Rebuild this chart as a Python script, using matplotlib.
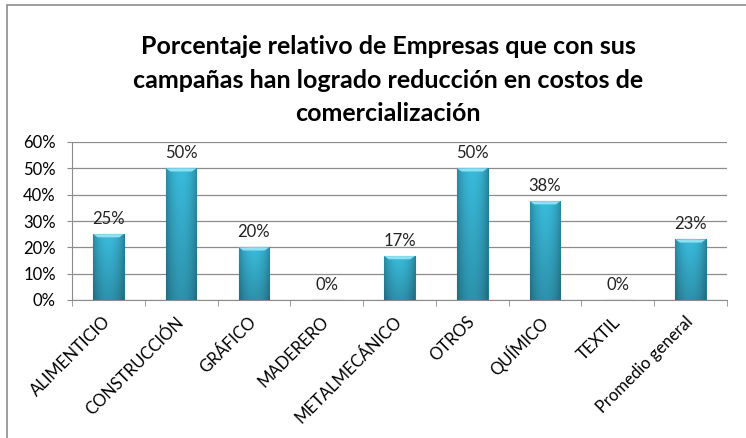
import numpy as np
import matplotlib.pyplot as plt
from matplotlib.patches import Rectangle
from matplotlib.ticker import PercentFormatter, FixedLocator

categorias = ['ALIMENTICIO', 'CONSTRUCCIÓN', 'GRÁFICO', 'MADERERO', 'METALMECÁNICO',
              'OTROS', 'QUÍMICO', 'TEXTIL', 'Promedio general']
valores = [0.25, 0.50, 0.20, 0.0, 0.1667, 0.50, 0.375, 0.0, 0.23]
etiquetas = ['25%', '50%', '20%', '0%', '17%', '50%', '38%', '0%', '23%']

titulo = ('Porcentaje relativo de Empresas que con sus\n'
          'campañas han logrado reducción en costos de\n'
          'comercialización')

plt.rcParams['font.family'] = ['Lato', 'DejaVu Sans']

fig = plt.figure(figsize=(7.46, 4.38), dpi=100)
# marco gris del gráfico
fig.patches.append(Rectangle((7/746, -0.05), 1.0, 1 - 5/438 + 0.05, transform=fig.transFigure,
                             fill=False, edgecolor='#8c8c8c', linewidth=1.2))

ax = fig.add_axes([72/746, 1 - 300/438, 655/746, 158/438])
x = np.arange(len(categorias))

barras = ax.bar(x, valores, width=0.42, color='#33b3d4', edgecolor='#1f7f99',
                linewidth=0.8, zorder=3)

# degradado tipo 3D dentro de cada barra
perfil = 0.62 + 0.38 * np.sin(np.linspace(0.15, np.pi - 0.15, 40)) ** 0.6
vert = np.linspace(0.78, 1.0, 60)[:, None]
base = np.array([0x3a, 0xbb, 0xdc]) / 255
img = np.clip(base[None, None, :] * perfil[None, :, None] * vert[:, :, None], 0, 1)
for b in barras:
    h = b.get_height()
    if h <= 0:
        continue
    x0, w = b.get_x(), b.get_width()
    im = ax.imshow(img, extent=[x0, x0 + w, 0, h], aspect='auto', origin='lower',
                   zorder=3.5, interpolation='bilinear')
    im.set_clip_path(b)
    # bisel superior claro
    bev = min(0.012, h * 0.2)
    ax.fill([x0, x0 + w, x0 + w * 0.85, x0 + w * 0.15], [h, h, h - bev, h - bev],
            color='#8fe0f3', zorder=4, linewidth=0)

for xi, v, t in zip(x, valores, etiquetas):
    ax.text(xi, v + 0.028, t, ha='center', va='bottom', fontsize=12, color='#222222')

ax.set_xlim(-0.5, len(categorias) - 0.5)
ax.set_ylim(0, 0.6)
ax.set_yticks(np.arange(0, 0.61, 0.1))
ax.yaxis.set_major_formatter(PercentFormatter(1.0, decimals=0))
ax.grid(axis='y', color='#8c8c8c', linewidth=0.9, zorder=0)

ax.set_xticks(x)
ax.set_xticklabels(categorias, rotation=45, ha='right', va='center', rotation_mode='anchor')
ax.xaxis.set_minor_locator(FixedLocator(np.arange(-0.5, len(categorias), 1)))
ax.tick_params(axis='x', which='major', length=0, pad=14, labelsize=12)
ax.tick_params(axis='x', which='minor', length=4, color='#8c8c8c', direction='out')
ax.tick_params(axis='y', length=3.6, color='#8c8c8c', labelsize=12, pad=8)

for s in ['top', 'right']:
    ax.spines[s].set_visible(False)
for s in ['left', 'bottom']:
    ax.spines[s].set_color('#8c8c8c')

fig.text(388/746, 1 - 80/438, titulo, ha='center', va='center', fontsize=18,
         fontweight='bold', linespacing=1.55)

fig.savefig('out.png', dpi=100)
